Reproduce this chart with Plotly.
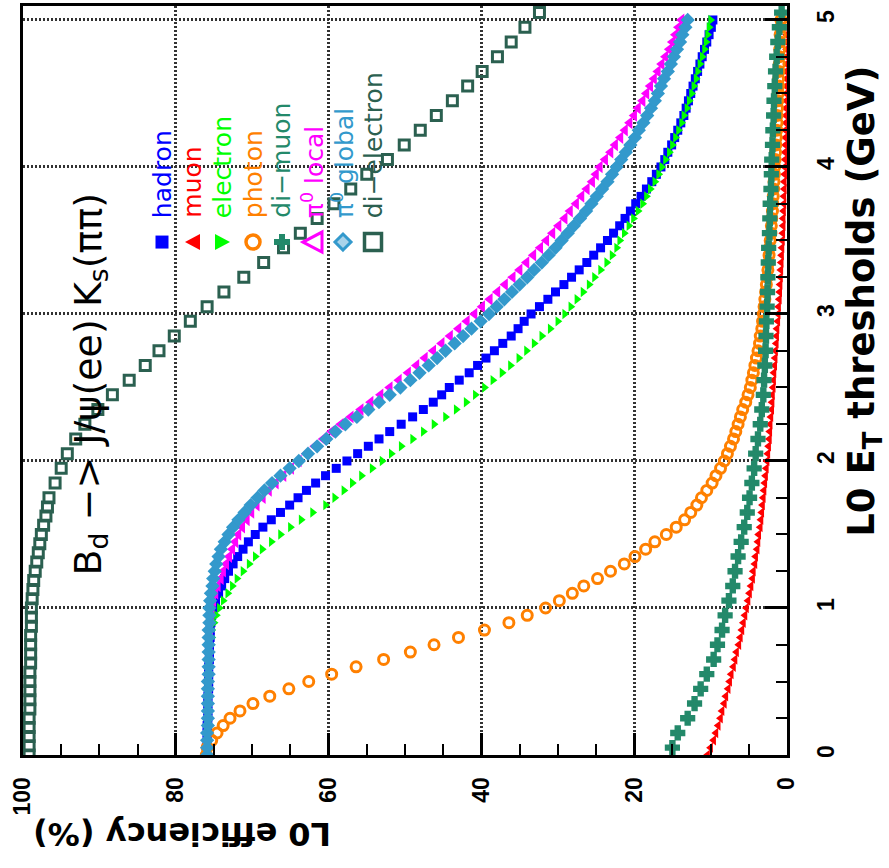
import numpy as np
import plotly.graph_objects as go

# ---------------------------------------------------------------- data
# L0 E_T threshold scan (GeV)
THRESH = np.round(np.arange(0.0, 5.0001, 0.05), 2)          # 101 bins
THRESH_DIMUON = np.round(np.arange(0.05, 5.0501, 0.1), 2)     # 51 bins
THRESH_DIELECTRON = [
    0.0, 0.0625, 0.125, 0.1875, 0.25, 0.3125, 0.375, 0.4375, 0.5, 0.5625,
    0.625, 0.6875, 0.75, 0.8125, 0.875, 0.9375, 1.0, 1.0625, 1.125, 1.1875,
    1.25, 1.3125, 1.375, 1.4375, 1.5, 1.5625, 1.625, 1.6875,
    1.75, 1.85, 1.95, 2.05, 2.15, 2.25, 2.35, 2.45, 2.55, 2.65, 2.75, 2.85,
    2.95, 3.05, 3.15, 3.25, 3.35, 3.45, 3.55, 3.65, 3.75, 3.85, 3.95, 4.05,
    4.15, 4.25, 4.35, 4.45, 4.55, 4.65, 4.75, 4.85, 4.95, 5.05,
]

# L0 efficiency (%) for B_d -> J/psi(ee) K_s(pi pi)
EFF_HADRON = [
    76.0, 76.0, 75.9, 75.9, 75.9, 75.8, 75.8, 75.8, 75.8, 75.7,
    75.7, 75.7, 75.7, 75.6, 75.6, 75.6, 75.5, 75.5, 75.4, 75.3,
    75.1, 74.8, 74.4, 74.0, 73.6, 73.1, 72.5, 71.9, 71.2, 70.5,
    69.6, 68.6, 67.5, 66.3, 65.1, 64.0, 62.9, 61.7, 60.4, 59.0,
    57.6, 56.2, 54.8, 53.4, 52.0, 50.5, 49.0, 47.6, 46.3, 45.2,
    44.2, 42.9, 41.6, 40.5, 39.4, 38.3, 37.2, 36.1, 35.2, 34.4,
    33.5, 32.4, 31.3, 30.3, 29.2, 28.2, 27.2, 26.2, 25.3, 24.4,
    23.5, 22.7, 21.9, 21.2, 20.5, 19.8, 19.1, 18.4, 17.7, 17.1,
    16.5, 16.0, 15.6, 15.1, 14.7, 14.3, 13.9, 13.5, 13.2, 12.9,
    12.6, 12.3, 12.0, 11.7, 11.4, 11.1, 10.8, 10.5, 10.2, 9.9, 9.7,
]
EFF_MUON = [
    10.4, 10.0, 9.6, 9.3, 9.0, 8.7, 8.5, 8.2, 8.0, 7.7,
    7.5, 7.3, 7.0, 6.8, 6.6, 6.3, 6.1, 5.9, 5.7, 5.5,
    5.3, 5.1, 4.9, 4.7, 4.5, 4.4, 4.2, 4.1, 3.9, 3.8,
    3.7, 3.5, 3.4, 3.3, 3.2, 3.1, 3.0, 2.9, 2.8, 2.7,
    2.6, 2.5, 2.4, 2.3, 2.25, 2.2, 2.1, 2.0, 1.95, 1.9,
    1.8, 1.75, 1.7, 1.6, 1.55, 1.5, 1.4, 1.35, 1.3, 1.2,
    1.15, 1.1, 1.0, 0.95, 0.9, 0.85, 0.8, 0.75, 0.7, 0.65,
    0.6, 0.55, 0.5, 0.5, 0.45, 0.4, 0.4, 0.35, 0.35, 0.3,
    0.3, 0.25, 0.25, 0.2, 0.2, 0.2, 0.15, 0.15, 0.15, 0.1,
    0.1, 0.1, 0.1, 0.1, 0.05, 0.05, 0.05, 0.05, 0.05, 0.05, 0.0,
]
EFF_ELECTRON = [
    76.0, 76.0, 75.9, 75.9, 75.9, 75.8, 75.8, 75.8, 75.7, 75.7,
    75.7, 75.6, 75.6, 75.5, 75.5, 75.4, 75.3, 75.3, 75.0, 74.7,
    74.3, 73.8, 73.2, 72.6, 72.0, 71.2, 70.4, 69.6, 68.7, 67.5,
    66.3, 65.0, 63.6, 62.1, 60.4, 59.2, 58.0, 56.9, 55.7, 54.3,
    53.0, 51.8, 50.5, 49.0, 47.6, 46.2, 44.7, 43.3, 42.0, 40.8,
    39.6, 38.5, 37.3, 36.2, 35.1, 34.1, 33.1, 32.1, 31.0, 30.0,
    29.1, 28.3, 27.5, 26.7, 25.9, 25.2, 24.4, 23.6, 22.9, 22.3,
    21.9, 21.3, 20.7, 20.1, 19.5, 18.9, 18.4, 17.9, 17.3, 16.8,
    16.4, 15.9, 15.4, 15.0, 14.6, 14.2, 13.8, 13.5, 13.1, 12.8,
    12.5, 12.2, 11.9, 11.7, 11.4, 11.1, 10.8, 10.6, 10.4, 10.2, 10.0,
]
EFF_PHOTON = [
    76.0, 75.9, 75.3, 74.6, 73.8, 72.9, 71.6, 69.9, 67.7, 65.2,
    62.6, 59.6, 56.4, 52.8, 49.3, 46.2, 43.0, 39.6, 36.4, 34.0,
    31.6, 29.8, 28.1, 26.6, 24.8, 23.1, 21.3, 19.9, 18.5, 17.3,
    15.8, 14.5, 13.4, 12.6, 11.8, 11.2, 10.5, 9.8, 9.3, 8.7,
    8.2, 7.8, 7.4, 7.0, 6.7, 6.4, 6.1, 5.8, 5.4, 5.1,
    4.8, 4.6, 4.4, 4.2, 4.0, 3.8, 3.6, 3.5, 3.3, 3.2,
    3.1, 3.0, 2.9, 2.8, 2.7, 2.6, 2.5, 2.4, 2.35, 2.3,
    2.2, 2.1, 2.05, 2.0, 1.9, 1.85, 1.8, 1.75, 1.7, 1.65,
    1.6, 1.55, 1.5, 1.45, 1.4, 1.35, 1.3, 1.3, 1.25, 1.2,
    1.15, 1.1, 1.1, 1.05, 1.0, 1.0, 0.95, 0.9, 0.9, 0.85, 0.8,
]
EFF_DIMUON = [
    15.0, 14.3, 13.0, 12.1, 11.3, 10.5, 9.6, 9.1, 8.5, 8.1,
    7.6, 7.1, 6.8, 6.4, 6.0, 5.6, 5.2, 4.9, 4.6, 4.3,
    4.1, 3.8, 3.5, 3.3, 3.1, 3.0, 2.9, 2.8, 2.75, 2.7,
    2.6, 2.55, 2.5, 2.45, 2.4, 2.3, 2.25, 2.2, 2.1, 2.05,
    2.0, 1.9, 1.85, 1.75, 1.7, 1.6, 1.5, 1.35, 1.2, 1.0, 0.7,
]
EFF_PI0_LOCAL = [
    75.9, 75.9, 75.9, 75.8, 75.8, 75.8, 75.8, 75.8, 75.7, 75.7,
    75.7, 75.7, 75.7, 75.6, 75.6, 75.6, 75.6, 75.5, 75.5, 75.4,
    75.3, 75.1, 74.8, 74.5, 74.1, 73.8, 73.4, 73.0, 72.6, 72.2,
    71.8, 71.3, 70.7, 70.1, 69.4, 68.6, 67.8, 66.9, 65.9, 64.9,
    63.9, 62.9, 61.8, 60.7, 59.6, 58.4, 57.1, 55.8, 54.5, 53.2,
    52.0, 50.8, 49.6, 48.5, 47.4, 46.3, 45.2, 44.1, 43.0, 41.9,
    40.9, 39.9, 38.9, 37.9, 36.9, 35.9, 35.0, 34.1, 33.2, 32.3,
    31.5, 30.7, 29.9, 29.1, 28.4, 27.6, 26.9, 26.2, 25.5, 25.0,
    24.5, 23.8, 23.1, 22.5, 21.8, 21.2, 20.6, 20.0, 19.5, 18.9,
    18.4, 17.9, 17.4, 16.9, 16.4, 15.9, 15.4, 15.0, 14.6, 14.2, 13.8,
]
EFF_PI0_GLOBAL = [
    75.9, 75.9, 75.9, 75.9, 75.8, 75.8, 75.8, 75.8, 75.8, 75.8,
    75.8, 75.7, 75.7, 75.7, 75.7, 75.7, 75.7, 75.7, 75.6, 75.6,
    75.6, 75.5, 75.4, 75.2, 75.1, 74.9, 74.7, 74.4, 74.1, 73.6,
    73.1, 72.5, 71.8, 71.0, 70.2, 69.3, 68.4, 67.4, 66.3, 65.1,
    63.9, 62.7, 61.5, 60.3, 59.1, 57.8, 56.3, 54.8, 53.4, 52.0,
    50.6, 49.3, 48.1, 46.9, 45.8, 44.7, 43.5, 42.4, 41.3, 40.1,
    39.0, 38.0, 37.0, 36.0, 35.0, 34.0, 33.1, 32.1, 31.2, 30.3,
    29.5, 28.7, 27.9, 27.1, 26.3, 25.6, 24.9, 24.2, 23.5, 22.9,
    22.3, 21.7, 21.1, 20.5, 19.9, 19.4, 18.8, 18.3, 17.8, 17.3,
    16.9, 16.5, 16.1, 15.6, 15.2, 14.8, 14.4, 14.0, 13.7, 13.3, 13.0,
]
EFF_DIELECTRON = [
    99.2, 99.2, 99.2, 99.2, 99.2, 99.1, 99.1, 99.1, 99.1, 99.1,
    99.0, 99.0, 99.0, 99.0, 98.9, 98.9, 98.9, 98.8, 98.7, 98.6,
    98.4, 98.2, 98.0, 97.8, 97.6, 97.3, 97.0, 96.8,
    96.6, 95.8, 95.0, 94.2, 93.1, 91.9, 90.2, 88.3, 86.1, 84.0,
    82.2, 80.2, 78.1, 75.9, 73.7, 71.1, 68.5, 65.9, 63.7, 61.5,
    59.3, 57.1, 55.0, 52.3, 50.1, 48.0, 45.9, 43.8, 41.8, 39.9,
    37.9, 36.1, 34.3, 32.4,
]

LABELS = ["hadron", "muon", "electron", "photon", "di\u2212muon",
          "\u03c0<sup>0</sup> local", "\u03c0<sup>0</sup> global", "di\u2212electron"]
COLORS = ["#0000ff", "#ff0000", "#00ff00", "#ff8000", "#23896a",
          "#ff00ff", "#3399cc", "#2b6050"]

# ---------------------------------------------------------------- traces
# the picture is turned a quarter turn: efficiency runs along the bottom
# (reversed) and the threshold along the right-hand side
series = [
    (THRESH, EFF_HADRON, dict(symbol="square", size=9, line=dict(width=0))),
    (THRESH, EFF_MUON, dict(symbol="triangle-left", size=9, line=dict(width=0))),
    (THRESH, EFF_ELECTRON, dict(symbol="triangle-right", size=9, line=dict(width=0))),
    (THRESH, EFF_PHOTON, dict(symbol="circle-open", size=10, line=dict(width=3))),
    (THRESH_DIMUON, EFF_DIMUON, dict(symbol="cross", size=11, line=dict(width=2))),
    (THRESH, EFF_PI0_LOCAL, dict(symbol="triangle-left", size=11, line=dict(width=0))),
    (THRESH, EFF_PI0_GLOBAL, dict(symbol="diamond", size=11, line=dict(width=0))),
    (THRESH_DIELECTRON, EFF_DIELECTRON,
     dict(symbol="square-open", size=10, line=dict(width=3))),
]

fig = go.Figure()
for (thr, eff, mk), name, col in zip(series, LABELS, COLORS):
    marker = dict(mk)
    marker["color"] = col
    marker["line"] = dict(color=col, width=mk["line"]["width"])
    fig.add_trace(go.Scatter(x=eff, y=thr, mode="markers", name=name,
                             marker=marker, showlegend=False))

# ---------------------------------------------------------------- axes
L, R, T, B = 23, 102, 3, 113
W, H = 889, 868
PW, PH = W - L - R, H - T - B

def px(xp):
    return (xp - L) / PW

def py(yp):
    return (H - B - yp) / PH

tick_font = dict(family="Liberation Sans", size=23, color="black", weight="bold")
grid = dict(showgrid=True, gridcolor="#333333", gridwidth=2.5, griddash="2px,2px")

fig.update_xaxes(range=[100, 0], tickvals=[0, 20, 40, 60, 80, 100],
                 ticks="inside", ticklen=22, tickwidth=2.5, tickcolor="black",
                 minor=dict(dtick=5, ticks="inside", ticklen=11, tickwidth=2,
                            tickcolor="black", showgrid=False),
                 tickangle=-90, tickfont=tick_font, ticklabelstandoff=10,
                 showline=True, linewidth=3, linecolor="black", mirror=True,
                 zeroline=False, **grid)
fig.update_yaxes(range=[0, 5.095], tickvals=[0, 1, 2, 3, 4, 5], side="right",
                 ticks="inside", ticklen=22, tickwidth=2.5, tickcolor="black",
                 minor=dict(dtick=0.25, ticks="inside", ticklen=11, tickwidth=2,
                            tickcolor="black", showgrid=False),
                 tickangle=-90, tickfont=tick_font, ticklabelstandoff=16,
                 showline=True, linewidth=3, linecolor="black", mirror=True,
                 zeroline=False, **grid)

# ---------------------------------------------------------------- text
ann = []
ann.append(dict(text="L0 efficiency (%)", textangle=180,
                x=px(182), y=py(835), xref="paper", yref="paper",
                xanchor="center", yanchor="middle", showarrow=False,
                font=dict(family="DejaVu Sans", size=32, color="black", weight="bold")))
ann.append(dict(text="L0 E<sub>T</sub> thresholds (GeV)", textangle=-90,
                x=px(864), y=py(300), xref="paper", yref="paper",
                xanchor="center", yanchor="middle", showarrow=False,
                font=dict(family="DejaVu Sans", size=37, color="black", weight="bold")))
ann.append(dict(text="B<sub>d</sub> \u2212> J/\u03c8(ee) K<sub>s</sub>(\u03c0\u03c0)",
                textangle=-90, x=px(90), y=py(383), xref="paper", yref="paper",
                xanchor="center", yanchor="middle", showarrow=False,
                font=dict(family="DejaVu Sans", size=38, color="black")))

# key: one column per series, symbol below the rotated label
key_x = [162, 193, 222, 253, 282, 313, 343, 373]
key_y = 240
for name, col, kx in zip(LABELS, COLORS, key_x):
    ann.append(dict(text=name, textangle=-90, x=px(kx), y=py(key_y - 22),
                    xref="paper", yref="paper", xanchor="center", yanchor="bottom",
                    showarrow=False,
                    font=dict(family="DejaVu Sans", size=25, color=col)))

shapes = []
def key_shape(kx, **kw):
    base = dict(xref="paper", yref="paper", xsizemode="pixel", ysizemode="pixel",
                xanchor=px(kx), yanchor=py(key_y))
    base.update(kw)
    shapes.append(base)

key_shape(key_x[0], type="rect", x0=-6.5, x1=6.5, y0=-6.5, y1=6.5,
          fillcolor=COLORS[0], line=dict(width=0))
key_shape(key_x[1], type="path", path="M -8 0 L 7 -8 L 7 8 Z",
          fillcolor=COLORS[1], line=dict(width=0))
key_shape(key_x[2], type="path", path="M 8 0 L -7 -8 L -7 8 Z",
          fillcolor=COLORS[2], line=dict(width=0))
key_shape(key_x[3], type="circle", x0=-7, x1=7, y0=-7, y1=7,
          line=dict(color=COLORS[3], width=3.5))
key_shape(key_x[4], type="path",
          path="M -8 -3 L -3 -3 L -3 -8 L 3 -8 L 3 -3 L 8 -3 L 8 3 L 3 3 "
               "L 3 8 L -3 8 L -3 3 L -8 3 Z",
          fillcolor=COLORS[4], line=dict(width=0))
key_shape(key_x[5], type="path", path="M -10 0 L 9 -10 L 9 10 Z",
          line=dict(color=COLORS[5], width=3))
key_shape(key_x[6], type="path", path="M 0 -8 L 8 0 L 0 8 L -8 0 Z",
          fillcolor="#a9d3ea", line=dict(color=COLORS[6], width=3))
key_shape(key_x[7], type="rect", x0=-8.5, x1=8.5, y0=-8.5, y1=8.5,
          line=dict(color=COLORS[7], width=3.5))

fig.update_layout(width=W, height=H, margin=dict(l=L, r=R, t=T, b=B),
                  paper_bgcolor="white", plot_bgcolor="white",
                  showlegend=False, annotations=ann, shapes=shapes)

fig.write_html("out.html")
